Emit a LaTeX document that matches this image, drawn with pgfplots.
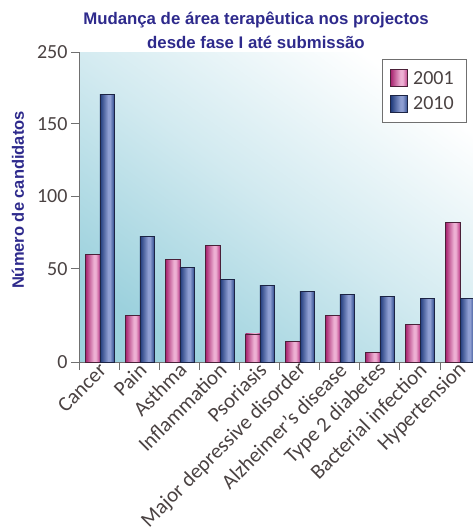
\documentclass[border=0pt]{standalone}
\usepackage{fontspec}
\setmainfont{Carlito}
\newfontfamily\titlefont{Liberation Sans}
\usepackage{pgfplots}
\usepackage{pgfplotstable}
\pgfplotsset{compat=1.18}

\definecolor{bgteal}{HTML}{9CD1DD}
\definecolor{bgmid}{HTML}{D2EAF0}
\definecolor{titleblue}{HTML}{2E2A8C}
\definecolor{ticktext}{HTML}{4A4242}
\definecolor{axisgray}{HTML}{707070}
\definecolor{pinkdark}{HTML}{A82570}
\definecolor{pinklight}{HTML}{EDB0D3}
\definecolor{pinkright}{HTML}{BE3C88}
\definecolor{pinkline}{HTML}{4A2038}
\definecolor{bluedark}{HTML}{1F3A7A}
\definecolor{bluelight}{HTML}{8E9ED2}
\definecolor{blueright}{HTML}{2E4A8C}
\definecolor{blueline}{HTML}{1C2444}

% cylinder-like sheen across each bar
\pgfdeclarehorizontalshading{pinkbar}{100bp}{color(0bp)=(pinkdark); color(25bp)=(pinkdark); color(53bp)=(pinklight); color(60bp)=(pinklight); color(75bp)=(pinkright); color(100bp)=(pinkright)}
\pgfdeclarehorizontalshading{bluebar}{100bp}{color(0bp)=(bluedark); color(25bp)=(bluedark); color(53bp)=(bluelight); color(60bp)=(bluelight); color(75bp)=(blueright); color(100bp)=(blueright)}

\pgfplotsset{
  squarelegend/.style={legend image code/.code={\draw[##1] (0pt,-8.5pt) rectangle (17pt,8.5pt);}},
  bar2001/.style={draw=pinkline, line width=0.8pt, shade, shading=pinkbar},
  bar2010/.style={draw=blueline, line width=0.8pt, shade, shading=bluebar},
}

% candidates per therapeutic area
\pgfplotstableread{
idx y2001 y2010
0   60    191
1   25    72
2   56    51
3   66    44
4   15    41
5   11    38
6   25    36
7   5     35
8   20    34
9   82    34
}\therapydata

\begin{document}
\begin{tikzpicture}
\begin{axis}[
  at={(0,0)}, anchor=south west,
  scale only axis, width=400pt, height=309.7pt,
  xmin=-0.5, xmax=9.5, ymin=0, ymax=250,
  enlargelimits=false,
  % broken value scale: 0-50 is drawn taller than the upper steps
  y coord trafo/.code={\pgfmathparse{#1<=50 ? 1.868*#1 : (#1<=150 ? 93.4+1.45*(#1-50) : 238.4+0.713*(#1-150))}},
  ytick={0,50,100,150,250}, yticklabels={0,50,100,150,250},
  xtick={0,...,9},
  xticklabels={Cancer, Pain, Asthma, Inflammation, Psoriasis, Major depressive disorder, Alzheimer’s disease, Type 2 diabetes, Bacterial infection, Hypertension},
  minor xtick={-0.5,0.5,...,9.5},
  axis lines=left,
  axis line style={-, draw=axisgray, line width=1pt},
  tick align=outside,
  major tick length=9pt, minor tick length=8pt,
  tick style={draw=axisgray, line width=1pt},
  major x tick style={draw=none},
  /pgf/number format/assume math mode=true,
  tick label style={font=\fontsize{20}{24}\selectfont, text=ticktext},
  xticklabel style={font=\fontsize{21}{24}\selectfont, rotate=45, anchor=east, xshift=8.5pt, yshift=1pt},
  axis background/.style={top color=white, bottom color=bgteal, middle color=bgmid, shading angle=-36},
  title={Mudança de área terapêutica nos projectos\\desde fase I até submissão},
  title style={font=\titlefont\bfseries\fontsize{16.8}{24.5}\selectfont, text=titleblue, align=center, at={(axis description cs:0.44,1)}, anchor=south, yshift=-3pt, inner sep=0pt},
  ylabel={Número de candidatos},
  ylabel style={font=\titlefont\bfseries\fontsize{16.5}{20}\selectfont, text=titleblue, at={(axis description cs:-0.155,0.523)}, anchor=center},
  legend style={at={(0.968,0.978)}, anchor=north east, draw=axisgray, line width=1pt, fill=white,
    font=\fontsize{20}{24}\selectfont, text=ticktext, inner xsep=8pt, inner ysep=6pt, row sep=0pt,
    nodes={inner ysep=5.5pt, inner xsep=5pt}},
  legend cell align=left,
]
\pgfplotsinvokeforeach{0,...,9}{
  \addplot[ybar, bar width=14.3pt, bar shift=-7.15pt, bar2001, forget plot,
    x filter/.expression={abs(x-#1)<0.1 ? x : nan}]
    table[x=idx, y=y2001] {\therapydata};
  \addplot[ybar, bar width=14.3pt, bar shift=7.15pt, bar2010, forget plot,
    x filter/.expression={abs(x-#1)<0.1 ? x : nan}]
    table[x=idx, y=y2010] {\therapydata};
}
\addlegendimage{bar2001, squarelegend}
\addlegendentry{2001}
\addlegendimage{bar2010, squarelegend}
\addlegendentry{2010}
\end{axis}
\pgfresetboundingbox
\useasboundingbox (-80pt,-170pt) rectangle (393pt,362pt);
\end{tikzpicture}
\end{document}
